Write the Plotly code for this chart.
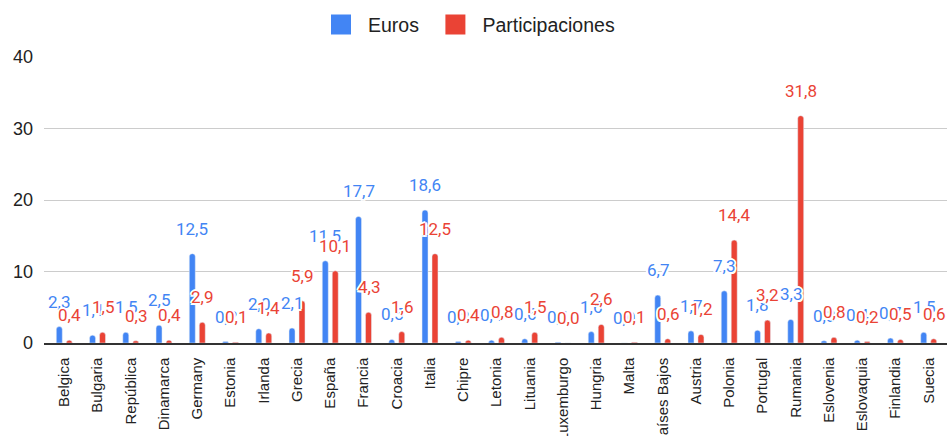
import plotly.graph_objects as go

categories = ["Belgica", "Bulgaria", "República", "Dinamarca", "Germany", "Estonia",
              "Irlanda", "Grecia", "España", "Francia", "Croacia", "Italia", "Chipre",
              "Letonia", "Lituania", "Luxemburgo", "Hungria", "Malta", "Países Bajos",
              "Austria", "Polonia", "Portugal", "Rumania", "Eslovenia", "Eslovaquia",
              "Finlandia", "Suecia"]
euros = [2.3, 1.1, 1.5, 2.5, 12.5, 0.2, 2.0, 2.1, 11.5, 17.7, 0.5, 18.6, 0.2,
         0.4, 0.6, 0.1, 1.6, 0.0, 6.7, 1.7, 7.3, 1.8, 3.3, 0.3, 0.4, 0.7, 1.5]
participaciones = [0.4, 1.5, 0.3, 0.4, 2.9, 0.1, 1.4, 5.9, 10.1, 4.3, 1.6, 12.5, 0.4,
                   0.8, 1.5, 0.0, 2.6, 0.1, 0.6, 1.2, 14.4, 3.2, 31.8, 0.8, 0.2, 0.5, 0.6]
y_ticks = [0, 10, 20, 30, 40]

BLUE = "#4285F4"
RED = "#EA4335"
HALO = ("white 2px 0px 0px, white -2px 0px 0px, white 0px 2px 0px, white 0px -2px 0px, "
        "white 1.5px 1.5px 0px, white -1.5px -1.5px 0px, white 1.5px -1.5px 0px, white -1.5px 1.5px 0px")


def fmt(v):
    return f"{v:.1f}".replace(".", ",")


fig = go.Figure()
fig.add_trace(go.Bar(x=categories, y=euros, name="Euros", marker=dict(color=BLUE, cornerradius=3),
                     showlegend=False))
fig.add_trace(go.Bar(x=categories, y=participaciones, name="Participaciones",
                     marker=dict(color=RED, cornerradius=3), showlegend=False))
# legend swatches
fig.add_trace(go.Scatter(x=[None], y=[None], mode="markers", name="Euros", legend="legend",
                         marker=dict(symbol="square", size=16, color=BLUE,
                                     line=dict(color=BLUE, width=4))))
fig.add_trace(go.Scatter(x=[None], y=[None], mode="markers", name="Participaciones",
                         legend="legend2",
                         marker=dict(symbol="square", size=16, color=RED,
                                     line=dict(color=RED, width=4))))

annotations = []
for series, color, shift in ((euros, BLUE, -5), (participaciones, RED, 5)):
    for c, v in zip(categories, series):
        annotations.append(dict(
            x=c, y=v, xref="x", yref="y", text=fmt(v), showarrow=False,
            xshift=shift, yshift=25, yanchor="middle", xanchor="center",
            font=dict(family="Roboto", size=17, color=color, shadow=HALO)))

legend_common = dict(orientation="h", xanchor="left", xref="paper",
                     y=0.988, yanchor="top", yref="container", itemwidth=44,
                     font=dict(size=19.5, color="#222222"), itemclick=False,
                     itemdoubleclick=False)

fig.update_layout(
    width=947, height=436,
    margin=dict(l=44, r=0, t=57, b=93, autoexpand=False),
    paper_bgcolor="white", plot_bgcolor="white",
    barmode="group", bargap=0.4, bargroupgap=0.4,
    font=dict(family="Liberation Sans, Arial, sans-serif", color="#222222"),
    legend=dict(x=0.299, **legend_common),
    legend2=dict(x=0.4257, **legend_common),
    annotations=annotations,
)
fig.update_xaxes(
    type="category", range=[-0.61, 26.55], tickangle=-90, automargin=False,
    tickfont=dict(size=15, color="#222222", family="Liberation Sans, Arial, sans-serif"),
    showline=True, linecolor="#333333", linewidth=1.5, showgrid=False, ticks="",
    ticklabelstandoff=7,
)
fig.update_yaxes(
    range=[0, 40], tickvals=y_ticks, ticktext=[str(t) for t in y_ticks], automargin=False,
    tickfont=dict(size=18, color="#222222", family="Liberation Sans, Arial, sans-serif"),
    showgrid=True, gridcolor="#cccccc", gridwidth=1, zeroline=False, showline=False,
    ticks="", ticklabelstandoff=10,
)

fig.write_html("out.html", config={"displayModeBar": False},
               post_script="document.body.style.margin='0';")
